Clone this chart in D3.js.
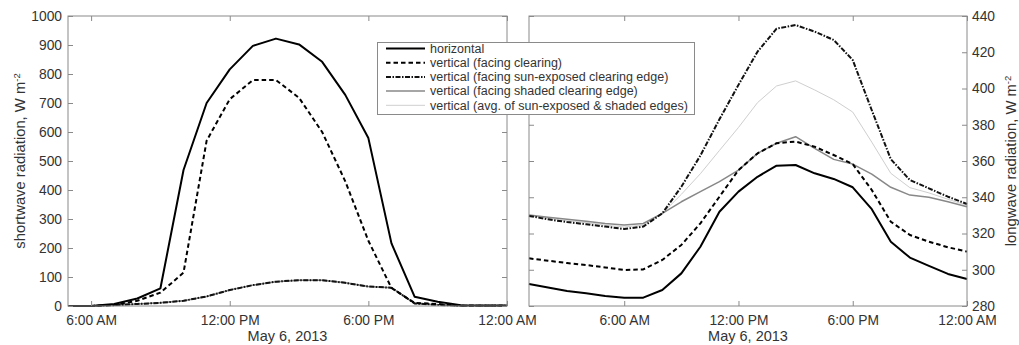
<!DOCTYPE html>
<html><head><meta charset="utf-8">
<script src="https://cdn.jsdelivr.net/npm/d3@7"></script>
<style>
body{margin:0;background:#fff;}
svg{display:block;font-family:"Liberation Sans",Arial,sans-serif;}
</style></head>
<body><svg id="c" width="1019" height="345"></svg>
<script>
// ---- data ----
const swHours = [5,6,7,8,9,10,11,12,13,14,15,16,17,18,19,20,21,22,23,24];
const swHorizontal = [0,0,7,26,61,469,700,816,897,922,902,842,728,579,216,32,15,3,2,2];
const swClearing   = [0,0,4,18,46,115,570,713,779,779,718,600,430,225,62,11,7,1,1,1];
const swSunExposed = [0,0,3,7,11,18,33,55,72,84,89,89,80,67,63,9,4,1,1,1];
const swShaded     = [0,0,3,7,11,18,33,55,72,84,89,89,80,67,63,9,4,1,1,1];
const swAvg        = [0,0,3,7,11,18,33,55,72,84,89,89,80,67,63,9,4,1,1,1];

const lwHours = [1,2,3,4,5,6,7,8,9,10,11,12,13,14,15,16,17,18,19,20,21,22,23,24];
const lwHorizontal = [292.1,290.2,288.3,287.0,285.5,284.6,284.6,288.8,298.0,312.7,332.0,343.1,351.3,357.4,357.8,353.2,350.1,345.5,333.4,315.5,306.7,302.1,297.7,294.9];
const lwClearing   = [306.3,305.0,303.7,302.6,301.3,299.9,300.2,305.4,313.7,325.6,340.3,355.0,364.2,369.8,370.7,367.9,363.3,358.3,344.0,326.5,319.2,315.5,312.4,310.0];
const lwSunExposed = [329.7,327.8,326.3,325.1,323.8,322.5,323.8,331.1,345.8,363.0,383.0,402.0,420.3,433.0,435.0,431.4,426.8,415.7,388.0,361.0,349.5,344.9,340.3,336.3];
const lwShaded     = [330.2,329.0,327.8,326.8,325.5,324.7,325.5,331.1,337.5,343.1,348.6,355.0,364.2,369.8,373.4,367.0,360.9,358.3,352.8,345.5,341.2,340.0,337.5,334.8];
const lwAvg        = [330.0,328.4,327.0,326.0,324.6,323.6,324.6,331.1,341.6,353.0,365.8,378.5,392.2,401.4,404.2,399.2,393.8,387.0,370.4,353.2,345.3,342.4,338.9,335.5];

const xTickHours = [6,12,18,24];
const xTickLabels = ["6:00 AM","12:00 PM","6:00 PM","12:00 AM"];
const swTicks = [0,100,200,300,400,500,600,700,800,900,1000];
const lwTicks = [280,300,320,340,360,380,400,420,440];
const seriesNames = ["horizontal","vertical (facing clearing)","vertical (facing sun-exposed clearing edge)","vertical (facing shaded clearing edge)","vertical (avg. of sun-exposed & shaded edges)"];
const dateLabel = "May 6, 2013";

// ---- styles ----
const styles = [
  {stroke:"#000", w:2, dash:null},
  {stroke:"#000", w:2, dash:"4.5,3"},
  {stroke:"#111", w:2, dash:"5,1.5,1.5,1.5"},
  {stroke:"#888", w:1.5, dash:null},
  {stroke:"#cfcfcf", w:1, dash:null}
];
const drawOrder = [4,3,2,1,0];
const axisColor = "#8a8a8a", textColor = "#333";

const svg = d3.select("#c");
const plotTop = 16, plotBottom = 306;

function panel(x0, x1, xDomain, yDomain, yTicks, hours, series, yLabelSide, yTitle){
  const x = d3.scaleLinear().domain(xDomain).range([x0,x1]);
  const y = d3.scaleLinear().domain(yDomain).range([plotBottom,plotTop]);
  const g = svg.append("g");
  const line = d3.line().x((d,i)=>x(hours[i])).y(d=>y(d));
  drawOrder.forEach(k=>{
    const s = styles[k];
    g.append("path").datum(series[k]).attr("d",line).attr("fill","none")
      .attr("stroke",s.stroke).attr("stroke-width",s.w)
      .attr("stroke-dasharray",s.dash).attr("stroke-linejoin","round");
  });
  const fmt = d => xTickLabels[xTickHours.indexOf(d)];
  const ab = g.append("g").attr("transform",`translate(0,${plotBottom})`)
    .call(d3.axisBottom(x).tickValues(xTickHours).tickFormat(fmt).tickSizeInner(-5).tickSizeOuter(0).tickPadding(9));
  const at = g.append("g").attr("transform",`translate(0,${plotTop})`)
    .call(d3.axisTop(x).tickValues(xTickHours).tickFormat("").tickSizeInner(-5).tickSizeOuter(0));
  const aL = g.append("g").attr("transform",`translate(${x0},0)`)
    .call(d3.axisLeft(y).tickValues(yTicks).tickFormat(yLabelSide==="left"?d3.format("d"):"").tickSizeInner(-5).tickSizeOuter(0).tickPadding(6));
  const aR = g.append("g").attr("transform",`translate(${x1},0)`)
    .call(d3.axisRight(y).tickValues(yTicks).tickFormat(yLabelSide==="right"?d3.format("d"):"").tickSizeInner(-5).tickSizeOuter(0).tickPadding(5));
  [ab,at,aL,aR].forEach(a=>{
    a.select(".domain").remove();
    a.selectAll("line").attr("stroke",axisColor);
    a.selectAll("text").attr("fill",textColor).style("font-size","13.8px").style("font-family","Liberation Sans, Arial, sans-serif");
  });
  g.append("rect").attr("x",x0).attr("y",plotTop).attr("width",x1-x0).attr("height",plotBottom-plotTop)
    .attr("fill","none").attr("stroke",axisColor).attr("stroke-width",1);
  g.append("text").attr("x",(x0+x1)/2).attr("y",341).attr("text-anchor","middle")
    .attr("fill",textColor).style("font-size","14.5px").text(dateLabel);
  const tx = yLabelSide==="left" ? 25 : 1016;
  const t = g.append("text").attr("transform",`translate(${tx},161) rotate(-90)`)
    .attr("text-anchor","middle").attr("fill",textColor).style("font-size","14.8px");
  t.append("tspan").text(yTitle);
  t.append("tspan").attr("dy",-5.5).style("font-size","9.5px").text("-2");
  return g;
}

panel(68,507,[5,24],[0,1000],swTicks,swHours,[swHorizontal,swClearing,swSunExposed,swShaded,swAvg],"left","shortwave radiation, W m");
panel(529,967,[1,24],[280,440],lwTicks,lwHours,[lwHorizontal,lwClearing,lwSunExposed,lwShaded,lwAvg],"right","longwave radiation, W m");

const lg = svg.append("g");
lg.append("rect").attr("x",377.5).attr("y",42.5).attr("width",317).attr("height",72)
  .attr("fill","#fff").attr("stroke",axisColor).attr("stroke-width",1);
seriesNames.forEach((name,i)=>{
  const yy = 48.5 + i*14.2;
  const s = styles[i];
  lg.append("line").attr("x1",386).attr("x2",425).attr("y1",yy).attr("y2",yy)
    .attr("stroke",s.stroke).attr("stroke-width",s.w).attr("stroke-dasharray",s.dash);
  lg.append("text").attr("x",430).attr("y",yy).attr("dy","0.35em").attr("fill",textColor)
    .style("font-size","12.5px").text(name);
});
</script>
</body></html>
